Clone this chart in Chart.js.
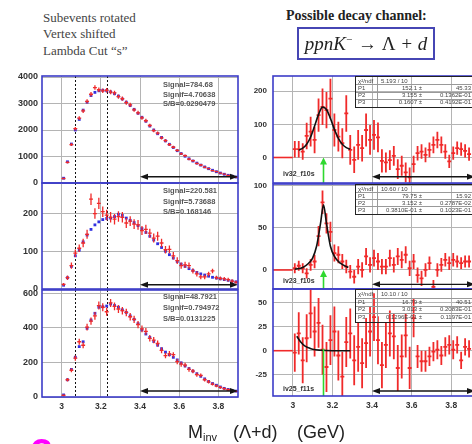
<!DOCTYPE html>
<html><head><meta charset="utf-8">
<script src="https://cdn.jsdelivr.net/npm/chart.js@4.4.1/dist/chart.umd.min.js"></script>
<style>
html,body{margin:0;padding:0;background:#fff}
body{position:relative;width:472px;height:444px;overflow:hidden;font-family:"Liberation Sans",Arial,sans-serif}
canvas{position:absolute;z-index:1}
.t{position:absolute;white-space:nowrap;line-height:1;z-index:2}
.note{font-family:"Liberation Serif","Times New Roman",serif;font-size:13px;color:#444}
.stat{font-size:7.5px;font-weight:bold;color:#555}
.iv{font-size:7px;font-weight:bold;color:#333}
.fit{position:absolute;z-index:2;border:1.5px solid #222;box-sizing:border-box;font-size:6px;color:#444}
.fit .r{position:absolute;left:0;right:0;border-top:0.5px solid #999}
.fit span{position:absolute;white-space:nowrap;line-height:1}
.ax{position:absolute;z-index:2;white-space:nowrap;line-height:1;font-size:18px;color:#222}
</style></head><body>
<div class="t note" style="left:43px;top:11px">Subevents rotated</div>
<div class="t note" style="left:43px;top:27px">Vertex shifted</div>
<div class="t note" style="left:43px;top:44px">Lambda Cut “s”</div>
<div class="t" style="left:286px;top:8px;font:bold 14px 'Liberation Serif',serif;color:#222">Possible decay channel:</div>
<div class="t" style="left:297px;top:27px;width:138px;height:33px;box-sizing:border-box;border:2px solid #4646b4;text-align:center;font:italic 19px/29px 'Liberation Serif',serif;color:#222"><span>ppnK<sup style="font-size:11px;line-height:0">−</sup> → <span style="font-style:normal">Λ</span> + d</span></div>
<div class="ax" style="left:188px;top:423px">M<sub style="font-size:11px;vertical-align:-3px">inv</sub></div>
<div class="ax" style="left:233px;top:423px">(Λ+d)</div>
<div class="ax" style="left:297px;top:423px">(GeV)</div>
<div class="t" style="left:30px;top:432px;font:bold 38px 'Liberation Sans',sans-serif;color:#f0f">?</div>
<script>
// ---------- data ----------
const binX = [3.01,3.03,3.05,3.07,3.09,3.11,3.13,3.15,3.17,3.19,3.21,3.23,3.25,3.27,3.29,3.31,3.33,3.35,3.37,3.39,3.41,3.43,3.45,3.47,3.49,3.51,3.53,3.55,3.57,3.59,3.61,3.63,3.65,3.67,3.69,3.71,3.73,3.75,3.77,3.79,3.81,3.83,3.85,3.87,3.89];
const binHalf = 0.01;
const xTickVals = [3, 3.2, 3.4, 3.6, 3.8];
const xTickLabels = ['3', '3.2', '3.4', '3.6', '3.8'];

// left column: blue = background, red = data
const ltBlue = [180,800,1470,2000,2400,2750,3050,3300,3420,3480,3500,3480,3440,3370,3280,3170,3050,2920,2780,2630,2480,2330,2150,2000,1860,1720,1590,1460,1340,1220,1110,1010,915,830,750,675,605,540,480,425,375,330,290,255,225];
const ltRed  = [170,780,1450,2050,2450,2720,3080,3350,3600,3520,3480,3500,3430,3400,3260,3180,3030,2950,2760,2650,2460,2350,2170,1980,1880,1700,1600,1450,1350,1230,1100,1030,900,840,740,680,600,545,470,430,370,335,285,260,220];
const ltErr  = [20,40,55,65,70,75,80,85,85,85,85,85,85,85,80,80,80,78,75,75,72,70,68,65,62,60,58,55,52,50,48,45,42,40,38,36,34,32,30,28,26,24,22,20,18];
const ltTicks = [0,1000,2000,3000,4000];
const ltTickLabels = ['0','1000','2000','3000','4000'];

const lmBlue = [10,30,60,88,103,125,143,158,170,178,184,187,188,192,198,195,188,182,176,168,160,150,140,130,120,110,100,91,82,73,66,60,54,49,44,40,37,34,31,29,27,25,23,21,19];
const lmRed  = [12,30,62,95,108,122,145,238,200,227,205,196,190,185,192,190,175,180,172,170,155,158,148,135,140,122,104,105,88,75,62,64,62,48,40,32,32,40,48,30,28,27,25,21,18];
const lmErr  = [4,6,8,10,10,11,12,15,14,15,14,14,14,14,14,14,13,13,13,13,12,12,12,12,12,11,10,10,10,9,8,8,8,7,7,6,6,6,6,5,5,5,5,5,4];
const lmTicks = [0,100,200];
const lmTickLabels = ['0','100','200'];

const lbBlue = [12,100,160,230,292,320,398,446,485,520,523,527,539,530,520,505,490,470,450,425,388,365,345,322,300,280,260,245,230,215,198,180,165,150,135,120,105,90,78,68,58,50,44,38,34];
const lbRed  = [10,100,155,225,320,300,405,440,470,530,520,494,545,525,510,500,490,465,450,420,395,380,340,330,310,270,240,250,245,205,190,185,160,150,130,125,100,88,75,65,56,48,42,37,33];
const lbErr  = [5,10,12,15,17,17,20,21,22,23,23,23,23,23,23,22,22,22,21,21,20,20,19,18,18,17,16,16,15,15,14,14,13,12,12,11,10,10,9,8,8,7,7,6,6];
const lbTicks = [0,200,400,600];
const lbTickLabels = ['0','200','400','600'];

// right column: background-subtracted data + fit
const rtData = [25,25,18,65,78,53,128,153,143,178,83,63,43,133,23,-7,38,28,83,53,68,61,-10,-15,-8,5,-35,-25,-45,-60,-20,13,18,8,23,38,53,38,18,-12,13,28,25,20,10];
const rtErr  = [25,25,25,40,45,40,50,55,55,60,50,45,45,55,45,40,45,40,50,45,45,45,35,30,30,30,30,30,30,30,25,22,22,22,22,25,25,25,22,20,20,20,20,20,20];
const rtFitX = [3.03,3.05,3.07,3.09,3.11,3.13,3.15,3.17,3.19,3.21,3.23,3.25,3.27,3.29];
const rtFitY = [22,28,40,62,95,130,152,145,118,85,58,40,30,25];
const rtTicks = [0,100,200];
const rtTickLabels = ['0','100','200'];

const rmData = [2,5,2,-4,6,10,40,80,55,45,20,18,10,4,-2,-8,4,0,16,6,14,10,4,4,14,6,16,12,18,2,10,-6,-10,0,8,-20,0,6,12,8,12,10,8,10,10];
const rmErr  = [6,6,6,6,7,8,12,14,12,12,10,10,9,8,8,8,9,9,10,9,10,10,9,9,10,9,10,10,10,9,9,9,9,8,8,8,8,8,8,8,8,7,7,7,7];
const rmFitX = [3.01,3.05,3.08,3.10,3.12,3.14,3.155,3.17,3.19,3.21,3.24,3.28];
const rmFitY = [1,3,8,14,28,55,77,55,28,16,8,3];
const rmTicks = [0,50,100];
const rmTickLabels = ['0','50','100'];

const rbData = [-2,18,-10,13,39,20,29,1,-17,11,20,-5,-27,9,18,-10,4,-13,8,20,35,11,-15,6,18,15,-18,-6,16,-18,34,-6,-11,-11,-6,-1,1,-5,4,6,1,6,-10,4,2];
const rbErr  = [20,22,24,25,26,26,26,26,26,26,26,26,26,26,26,26,26,26,26,26,25,25,24,24,24,24,24,23,23,22,20,12,11,11,10,10,10,10,10,10,10,9,9,9,9];
const rbFitX = [3.02,3.04,3.06,3.08,3.10,3.14,3.20,3.29];
const rbFitY = [15,9,5,3,1.5,0.5,0,0];
const rbTicks = [-25,0,25,50];
const rbTickLabels = ['-25','0','25','50'];

const zeroX = [2.9, 3.0];
const zeroY = [0, 0];

// text blocks
const statLT = ['Signal=784.68','Signif=4.70638','S/B=0.0290479'];
const statLM = ['Signal=220.581','Signif=5.73688','S/B=0.168146'];
const statLB = ['Signal=48.7921','Signif=0.794972','S/B=0.0131225'];
const fitRT = [['χ²/ndf','5.193 / 10',''],['P1','152.1 ±','45.33'],['P2','3.155 ±','0.1362E-01'],['P3','0.1607 ±','0.4192E-01']];
const fitRM = [['χ²/ndf','10.60 / 10',''],['P1','79.75 ±','15.92'],['P2','3.152 ±','0.2787E-02'],['P3','0.3810E-01 ±','0.1023E-01']];
const fitRB = [['χ²/ndf','10.10 / 10',''],['P1','16.79 ±','40.51'],['P2','3.013 ±','0.2083E-01'],['P3','0.1296E-01 ±','0.1197E-01']];

// ---------- drawing ----------
const pts = (xs, ys) => xs.map((x, i) => ({x, y: ys[i]}));
const RED = '#f02a2a', BLUE = '#3030e0';

function drawErrs(chart, layer) {
  const {ctx, chartArea: a} = chart, x = chart.scales.x, y = chart.scales.y;
  ctx.save();
  ctx.beginPath(); ctx.rect(a.left, a.top, a.right - a.left, a.bottom - a.top); ctx.clip();
  chart.data.datasets.forEach(ds => {
    if (!ds.errs || ds.errLayer !== layer) return;
    ctx.strokeStyle = ds.borderColor; ctx.lineWidth = ds.errWidth;
    ds.data.forEach((p, i) => {
      const px = x.getPixelForValue(p.x), py = y.getPixelForValue(p.y);
      ctx.beginPath();
      ctx.moveTo(px, y.getPixelForValue(p.y - ds.errs[i]));
      ctx.lineTo(px, y.getPixelForValue(p.y + ds.errs[i]));
      ctx.moveTo(x.getPixelForValue(p.x - binHalf), py);
      ctx.lineTo(x.getPixelForValue(p.x + binHalf), py);
      ctx.stroke();
    });
  });
  ctx.restore();
}

const decor = {
  id: 'decor',
  beforeDatasetsDraw(chart, args, o) {
    const {ctx, chartArea: a} = chart, x = chart.scales.x;
    ctx.save();
    ctx.beginPath(); ctx.rect(a.left, a.top, a.right - a.left, a.bottom - a.top); ctx.clip();
    if (o.dotted) {
      ctx.strokeStyle = '#111'; ctx.lineWidth = 1; ctx.setLineDash([2, 2]);
      o.dotted.forEach(v => {
        const px = Math.round(x.getPixelForValue(v)) + 0.5;
        ctx.beginPath(); ctx.moveTo(px, a.top); ctx.lineTo(px, a.bottom); ctx.stroke();
      });
    }
    ctx.restore();
    drawErrs(chart, 'bottom');
  },
  afterDatasetsDraw(chart, args, o) {
    drawErrs(chart, 'top');
    const {ctx, chartArea: a} = chart, x = chart.scales.x, y = chart.scales.y;
    ctx.save();
    ctx.beginPath(); ctx.rect(a.left, a.top, a.right - a.left, a.bottom - a.top); ctx.clip();
    if (o.green) {
      const gx = x.getPixelForValue(o.green.x), g0 = y.getPixelForValue(o.green.y0), g1 = y.getPixelForValue(o.green.y1);
      ctx.strokeStyle = '#2fd82f'; ctx.fillStyle = '#2fd82f'; ctx.lineWidth = 1.6;
      ctx.beginPath(); ctx.moveTo(gx, g0); ctx.lineTo(gx, g1 + (o.green.head ? 4 : 0)); ctx.stroke();
      if (o.green.head) {
        ctx.beginPath(); ctx.moveTo(gx, g1); ctx.lineTo(gx - 3.5, g1 + 7); ctx.lineTo(gx + 3.5, g1 + 7); ctx.closePath(); ctx.fill();
      }
    }
    if (o.arrowY !== undefined) {
      const ay = y.getPixelForValue(o.arrowY), x1 = x.getPixelForValue(o.arrowX[0]), x2 = x.getPixelForValue(o.arrowX[1]);
      ctx.strokeStyle = '#151515'; ctx.fillStyle = '#151515'; ctx.lineWidth = 1.4;
      ctx.beginPath(); ctx.moveTo(x1 + 3, ay); ctx.lineTo(x2 - 3, ay); ctx.stroke();
      ctx.beginPath(); ctx.moveTo(x1, ay); ctx.lineTo(x1 + 8, ay - 3); ctx.lineTo(x1 + 8, ay + 3); ctx.closePath(); ctx.fill();
      ctx.beginPath(); ctx.moveTo(x2, ay); ctx.lineTo(x2 - 8, ay - 3); ctx.lineTo(x2 - 8, ay + 3); ctx.closePath(); ctx.fill();
    }
    ctx.restore();
    ctx.save();
    ctx.strokeStyle = '#3c3cc8'; ctx.lineWidth = 1.6;
    ctx.strokeRect(a.left, a.top, a.right - a.left, a.bottom - a.top);
    ctx.restore();
  }
};

function panel(p) {
  const c = document.createElement('canvas');
  c.width = p.w; c.height = p.h;
  Object.assign(c.style, {left: p.left + 'px', top: p.top + 'px', width: p.w + 'px', height: p.h + 'px'});
  document.body.appendChild(c);
  const tickFont = {family: 'Liberation Sans', weight: 'bold'};
  new Chart(c.getContext('2d'), {
    type: 'scatter',
    data: {datasets: p.datasets},
    options: {
      responsive: false, animation: false, devicePixelRatio: 1, events: [],
      layout: {padding: {top: 8, bottom: p.xLabels ? 0 : 8, left: 0, right: 0}},
      plugins: {legend: {display: false}, tooltip: {enabled: false}, decor: p.decor},
      scales: {
        x: {
          type: 'linear', min: 2.9, max: p.xMax,
          afterBuildTicks: s => { s.ticks = xTickVals.map(v => ({value: v})); },
          ticks: {display: !!p.xLabels, autoSkip: false, maxRotation: 0, callback: (v, i) => xTickLabels[i],
                  font: Object.assign({size: 8.5}, tickFont), color: '#333', padding: 5},
          grid: {color: '#b4b4b4', drawTicks: false, lineWidth: 1}, border: {display: false},
          afterFit: s => { s.height = p.xLabels ? 22 : 0; s.paddingLeft = 0; s.paddingRight = 0; }
        },
        y: {
          type: 'linear', min: p.yMin, max: p.yMax,
          afterBuildTicks: s => { s.ticks = p.yTicks.map(v => ({value: v})); },
          ticks: {autoSkip: false, callback: (v, i) => p.yLabels[i],
                  font: Object.assign({size: p.yFont}, tickFont), color: '#333', padding: p.yPad},
          grid: {color: '#b4b4b4', drawTicks: false, lineWidth: 1}, border: {display: false},
          afterFit: s => { s.width = p.yW; s.paddingTop = 0; s.paddingBottom = 0; }
        }
      }
    },
    plugins: [decor]
  });
}

function leftSets(blue, red, err) {
  return [
    {data: pts(binX, red), borderColor: RED, backgroundColor: RED, pointRadius: 0, errs: err, errLayer: 'top', errWidth: 1.3},
    {data: pts(binX, blue), pointStyle: 'rect', pointRadius: 2, borderWidth: 0, backgroundColor: BLUE, borderColor: BLUE}
  ];
}
function rightSets(data, err, fx, fy) {
  return [
    {data: pts(fx, fy), showLine: true, borderColor: '#111', borderWidth: 1.6, pointRadius: 0, tension: 0.4, cubicInterpolationMode: 'monotone'},
    {data: pts(zeroX, zeroY), showLine: true, borderColor: RED, borderWidth: 1.6, pointRadius: 0},
    {data: pts(binX, data), borderColor: RED, backgroundColor: RED, pointRadius: 0, errs: err, errLayer: 'bottom', errWidth: 1.8}
  ];
}

const L = {left: 0, w: 242, yW: 42, xMax: 3.9, yFont: 9, yPad: 4};
const R = {left: 236, w: 240, yW: 37, xMax: 3.925, yFont: 8, yPad: 6};

panel(Object.assign({}, L, {top: 68, h: 123, yMin: 0, yMax: 4038, yTicks: ltTicks, yLabels: ltTickLabels,
  datasets: leftSets(ltBlue, ltRed, ltErr), decor: {dotted: [3.07, 3.23], arrowY: 238, arrowX: [3.4, 3.9]}}));
panel(Object.assign({}, L, {top: 175, h: 122, yMin: 0, yMax: 281, yTicks: lmTicks, yLabels: lmTickLabels,
  datasets: leftSets(lmBlue, lmRed, lmErr), decor: {dotted: [3.07, 3.23], arrowY: 11.4, arrowX: [3.4, 3.9]}}));
panel(Object.assign({}, L, {top: 282, h: 137, xLabels: true, yMin: 0, yMax: 620, yTicks: lbTicks, yLabels: lbTickLabels,
  datasets: leftSets(lbBlue, lbRed, lbErr), decor: {dotted: [3.07, 3.23], arrowY: 35, arrowX: [3.4, 3.9]}}));

panel(Object.assign({}, R, {top: 68, h: 123, yMin: -77, yMax: 246, yTicks: rtTicks, yLabels: rtTickLabels,
  datasets: rightSets(rtData, rtErr, rtFitX, rtFitY),
  decor: {arrowY: -58, arrowX: [3.4, 3.92], green: {x: 3.155, y0: -77, y1: 0, head: true}}}));
panel(Object.assign({}, R, {top: 176, h: 121, yMin: -22.5, yMax: 101.6, yTicks: rmTicks, yLabels: rmTickLabels,
  datasets: rightSets(rmData, rmErr, rmFitX, rmFitY),
  decor: {arrowY: -17, arrowX: [3.4, 3.92], green: {x: 3.155, y0: -22.5, y1: 0, head: true}}}));
panel(Object.assign({}, R, {top: 281, h: 137, xLabels: true, yMin: -47.2, yMax: 64.3, yTicks: rbTicks, yLabels: rbTickLabels,
  datasets: rightSets(rbData, rbErr, rbFitX, rbFitY),
  decor: {arrowY: -42, arrowX: [3.4, 3.92], green: {x: 3.155, y0: -47.2, y1: 2, head: false}}}));

// ---------- text overlays ----------
function addText(cls, txt, left, top) {
  const d = document.createElement('div');
  d.className = 't ' + cls; d.textContent = txt;
  d.style.left = left + 'px'; d.style.top = top + 'px';
  document.body.appendChild(d);
}
[[statLT, [81, 90.5, 100]], [statLM, [187, 197.5, 208]], [statLB, [293, 304, 315]]].forEach(([lines, tops]) =>
  lines.forEach((s, i) => addText('stat', s, 163, tops[i])));
addText('iv', 'iv32_f10s', 283, 169.5);
addText('iv', 'iv23_f10s', 283, 277);
addText('iv', 'iv25_f11s', 283, 384.5);

function fitBox(rows, top, height) {
  const b = document.createElement('div');
  b.className = 'fit';
  Object.assign(b.style, {left: '355px', top: top + 'px', width: '130px', height: height + 'px'});
  const rh = (height - 3) / 4;
  rows.forEach((r, i) => {
    if (i > 0) { const l = document.createElement('div'); l.className = 'r'; l.style.top = (i * rh) + 'px'; b.appendChild(l); }
    const cy = i * rh + rh / 2 - 3;
    const a = document.createElement('span'); a.textContent = r[0]; a.style.left = '2px'; a.style.top = cy + 'px'; b.appendChild(a);
    const v = document.createElement('span'); v.textContent = r[1]; v.style.top = cy + 'px';
    if (i === 0) v.style.left = '25px'; else v.style.right = '62px';
    b.appendChild(v);
    const e = document.createElement('span'); e.textContent = r[2]; e.style.right = '13px'; e.style.top = cy + 'px'; b.appendChild(e);
  });
  const vl = document.createElement('div');
  Object.assign(vl.style, {position: 'absolute', left: '21px', top: '0', bottom: '0', borderLeft: '0.5px solid #999'});
  b.appendChild(vl);
  document.body.appendChild(b);
}
fitBox(fitRT, 76, 32);
fitBox(fitRM, 184, 31);
fitBox(fitRB, 289, 34);
</script>
</body></html>
